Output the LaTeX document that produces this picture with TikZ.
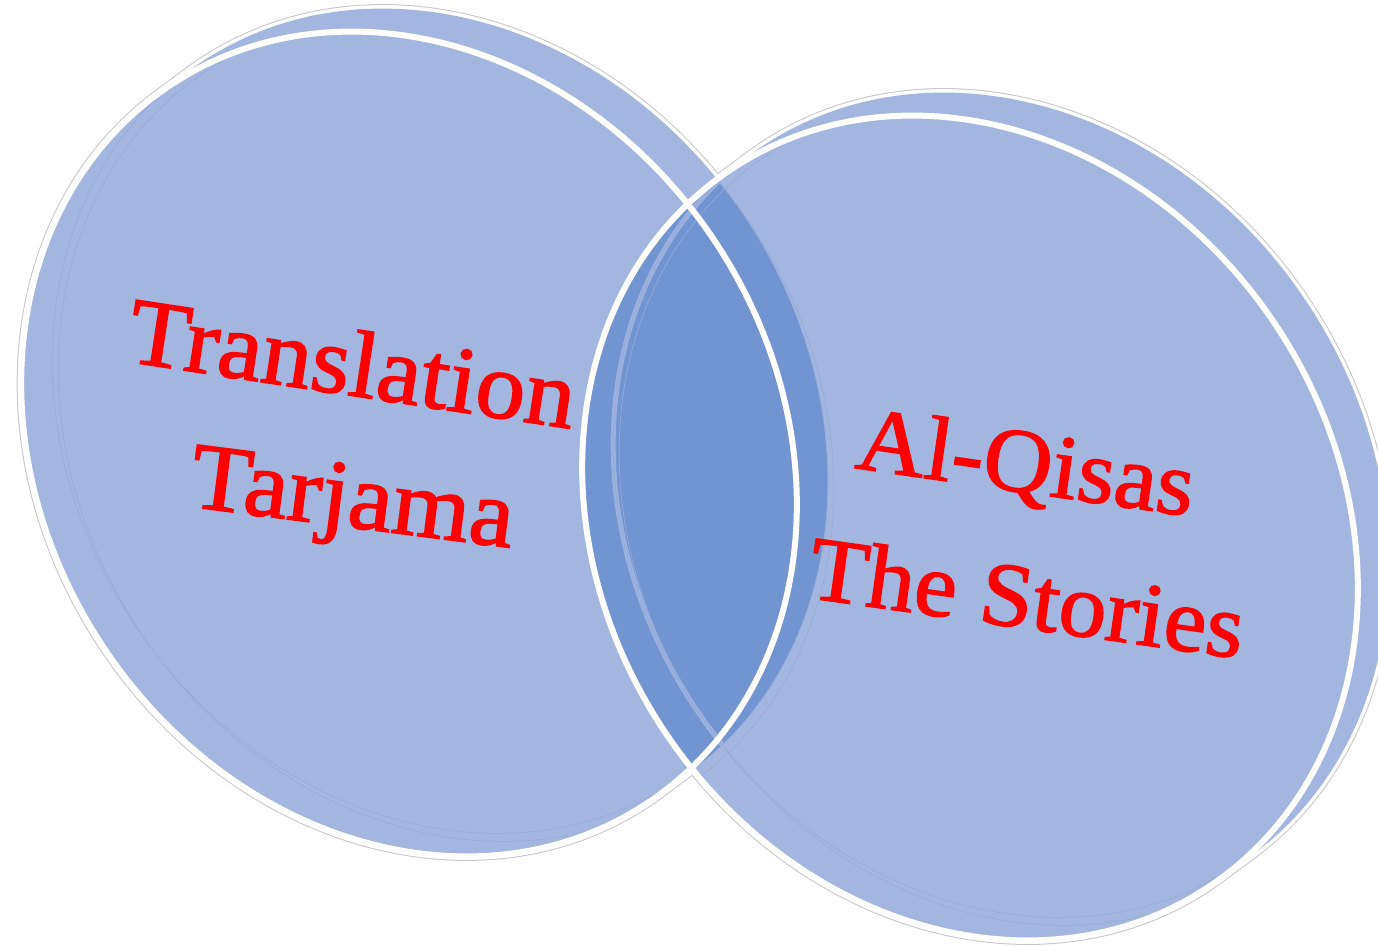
\documentclass[tikz,border=0pt]{standalone}
\usepackage{fontspec}
\setmainfont{Liberation Serif}
\newfontfamily\lblfont{Liberation Serif}[FakeBold=1.6, FakeStretch=1.05]
\definecolor{lightb}{RGB}{162,182,223}
\definecolor{darkb}{RGB}{114,148,208}
\definecolor{faintb}{RGB}{150,171,217}
\definecolor{ringb}{RGB}{156,177,221}
\definecolor{txtred}{RGB}{255,0,0}
\newcommand\discpath[1]{\foreach \k in {0,...,10}{([shift={(3.1*\k,2.3*\k)}]#1) ellipse[x radius=367,y radius=431,rotate=33.7]}}
\begin{document}
\begin{tikzpicture}[x=1pt,y=1pt,
  lbl/.style={text=txtred, inner sep=0pt, anchor=base},
  elp/.style={x radius=367, y radius=431, rotate=33.7},
  halo/.style={draw=gray!45, line width=9},
  band/.style={draw=white, line width=7},
  face/.style={fill=lightb},
  rim/.style={draw=white, line width=6},
  ghost/.style={draw=faintb, line width=0.7}]
\useasboundingbox (0,0) rectangle (1378,-945);
\coordinate (F1) at (409,-444);
\coordinate (B1) at (440,-421);
\coordinate (G1) at (446,-429);
\coordinate (F2) at (970,-528);
\coordinate (B2) at (1001,-505);
\coordinate (G2) at (1007,-513);
% outer silhouettes
\path[halo] \discpath{F1};
\path[halo] \discpath{F2};
\path[band] \discpath{F1};
\path[band] \discpath{F2};
\path[face] \discpath{F1};
\path[face] \discpath{F2};
% overlap
\begin{scope}
  \clip \discpath{F2};
  \fill[darkb] \discpath{F1};
  \clip \discpath{F1};
  \draw[ringb, line width=5] (B2) ellipse[elp];
\end{scope}
% faint back edges seen through the faces
\begin{scope}
  \clip (F1) ellipse[elp] (F2) ellipse[elp];
  \path[ghost] (B1) ellipse[elp] (G1) ellipse[elp];
  \path[ghost] (B2) ellipse[elp] (G2) ellipse[elp];
\end{scope}
% front rims
\path[rim] (F1) ellipse[elp];
\path[rim] (F2) ellipse[elp];
% labels
\node[lbl, rotate=-8.6, font=\lblfont\fontsize{95}{95}\selectfont] (t1) at (348,-395) {Translation};
\node[lbl, rotate=-7.3, font=\lblfont\fontsize{95}{95}\selectfont] (t2) at (349,-527) {Tarjama};
\node[lbl, rotate=-8.2, font=\lblfont\fontsize{91}{91}\selectfont] (t3) at (1022,-492) {Al-Qisas};
\node[lbl, rotate=-8.0, font=\lblfont\fontsize{91}{91}\selectfont] (t4) at (1023,-628) {The Stories};
\end{tikzpicture}
\end{document}
